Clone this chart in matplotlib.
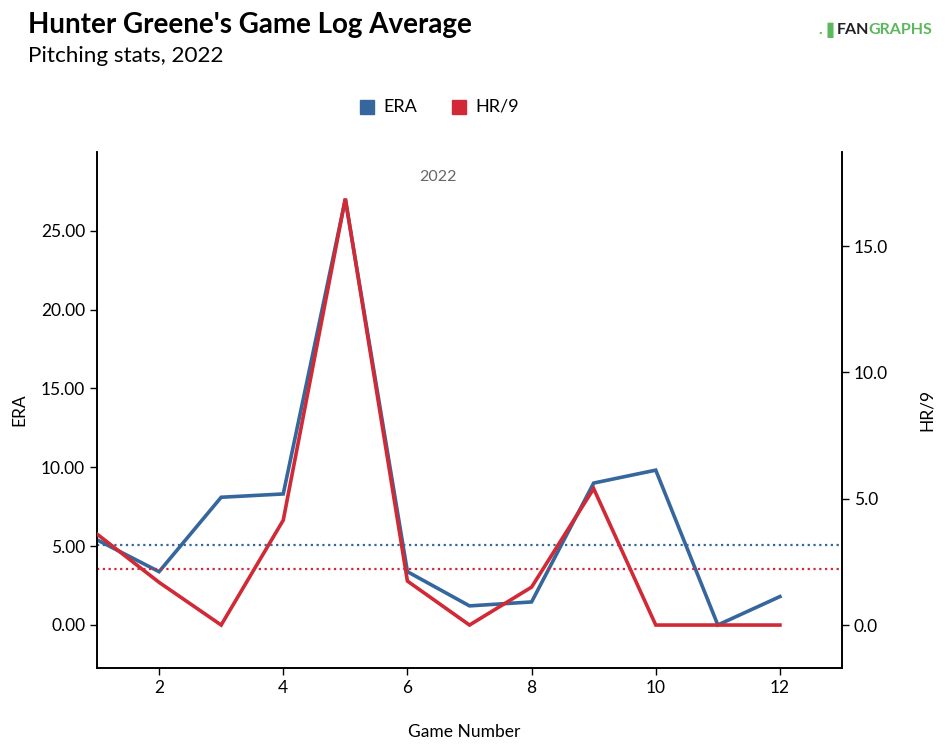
import matplotlib.pyplot as plt
import numpy as np

plt.rcParams['font.family'] = ['Lato', 'DejaVu Sans']

# Game log data
games = [1, 2, 3, 4, 5, 6, 7, 8, 9, 10, 11, 12]
era = [5.40, 3.38, 8.10, 8.31, 27.00, 3.38, 1.21, 1.46, 9.00, 9.82, 0.00, 1.80]
hr9 = [3.60, 1.69, 0.00, 4.15, 16.88, 1.74, 0.00, 1.50, 5.40, 0.00, 0.00, 0.00]
era_avg = 5.08
hr9_avg = 2.22

blue = '#36679c'
red = '#d12a36'

fig = plt.figure(figsize=(9.49, 7.56), dpi=100)
ax = fig.add_axes([97 / 949, 88 / 756, 745 / 949, 516 / 756])
ax2 = ax.twinx()

# Lines
ax.plot(games, era, color=blue, lw=2.6, solid_joinstyle='miter', zorder=3)
ax2.plot(games, hr9, color=red, lw=2.6, solid_joinstyle='miter', zorder=3)
ax.axhline(era_avg, color=blue, lw=1.6, ls=(0, (1, 1.6)))
ax2.axhline(hr9_avg, color=red, lw=1.6, ls=(0, (1, 1.6)))

ax.set_xlim(1, 13)
ax.set_ylim(-2.73, 30.0)
ax2.set_ylim(-1.70, 18.72)

ax.set_xticks([2, 4, 6, 8, 10, 12])
ax.set_yticks([0, 5, 10, 15, 20, 25])
ax.set_yticklabels([f'{v:.2f}' for v in [0, 5, 10, 15, 20, 25]])
ax2.set_yticks([0, 5, 10, 15])
ax2.set_yticklabels([f'{v:.1f}' for v in [0, 5, 10, 15]])

for a in (ax, ax2):
    a.tick_params(labelsize=12.5, length=5, width=1, colors='black')
    for s in a.spines.values():
        s.set_linewidth(1.2)
    a.spines['top'].set_visible(False)

ax.set_xlabel('Game Number', fontsize=12.5)
ax.xaxis.set_label_coords(0.493, -0.108)
ax.set_ylabel('ERA', fontsize=12.5, labelpad=10)
ax2.set_ylabel('HR/9', fontsize=12.5, labelpad=22)

# Plot line ordering: put the red line above the blue axis
ax.set_zorder(ax2.get_zorder() - 1)
ax.patch.set_visible(False)

ax.text(6.49, 28.4, '2022', fontsize=11.5, color='#666666',
        ha='center', va='center')

# Titles
fig.text(28 / 949, 1 - 25 / 756, "Hunter Greene's Game Log Average", fontsize=20,
         fontweight='bold', va='center', ha='left')
fig.text(28 / 949, 1 - 56 / 756, 'Pitching stats, 2022', fontsize=16.2,
         va='center', ha='left')

# Legend
fig.patches.append(plt.Rectangle((360 / 949, 1 - 114 / 756), 14 / 949, 14 / 756,
                                 transform=fig.transFigure, color=blue))
fig.text(383 / 949, 1 - 107 / 756, 'ERA', fontsize=13, va='center')
fig.patches.append(plt.Rectangle((452 / 949, 1 - 114 / 756), 14 / 949, 14 / 756,
                                 transform=fig.transFigure, color=red))
fig.text(475 / 949, 1 - 107 / 756, 'HR/9', fontsize=13, va='center')

# Logo
fig.text(818 / 949, 1 - 30 / 756, '.\u2590', fontsize=11, color='#5cb85c',
         va='center', ha='left', fontweight='bold')
fig.text(837 / 949, 1 - 30 / 756, 'FAN', fontsize=11.5, color='#222222',
         va='center', ha='left', fontweight='bold')
fig.text(868 / 949, 1 - 30 / 756, 'GRAPHS', fontsize=11.5, color='#5cb85c',
         va='center', ha='left', fontweight='bold')

fig.savefig('out.png', dpi=100)
